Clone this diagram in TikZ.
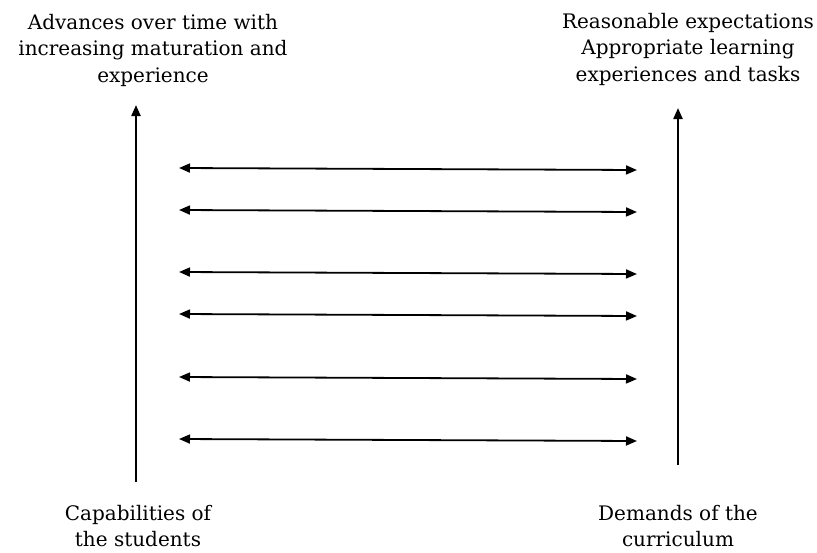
\documentclass[tikz,border=0pt]{standalone}
\usepackage{fontspec}
\setmainfont{DejaVu Serif}
\usetikzlibrary{arrows.meta}

\begin{document}
\begin{tikzpicture}[x=1pt, y=-1pt,
    every node/.style={align=center, inner sep=0pt,
      font=\fontsize{20}{26.5}\selectfont},
    rise/.style={line width=2.2pt, -{Triangle[length=11pt, width=9pt]}},
    link/.style={line width=1.8pt, {Triangle[length=11pt, width=9pt]}-{Triangle[length=11pt, width=9pt]}}]
  \useasboundingbox (0,0) rectangle (817,552);

  % labels at the top
  \node (advances) at (153,50) {Advances over time with\\increasing maturation and\\experience};
  \node (expect) at (688,49) {Reasonable expectations\\Appropriate learning\\experiences and tasks};

  % labels at the bottom
  \node (capab) at (138,526) {Capabilities of\\the students};
  \node (demands) at (678,526) {Demands of the\\curriculum};

  % the two rising arrows
  \coordinate (capfoot) at (136,482);
  \coordinate (caphead) at (136,105);
  \coordinate (demfoot) at (678,465);
  \coordinate (demhead) at (678,108);
  \draw[rise] (capfoot) -- (caphead);
  \draw[rise] (demfoot) -- (demhead);

  % matching arrows in between
  \foreach \y/\n in {168/a, 210/b, 272/c, 314/d, 377/e, 439/f} {
    \coordinate (lm\n) at (179,\y);
    \coordinate (rm\n) at (637,\y+2);
    \draw[link] (lm\n) -- (rm\n);
  }
\end{tikzpicture}
\end{document}
